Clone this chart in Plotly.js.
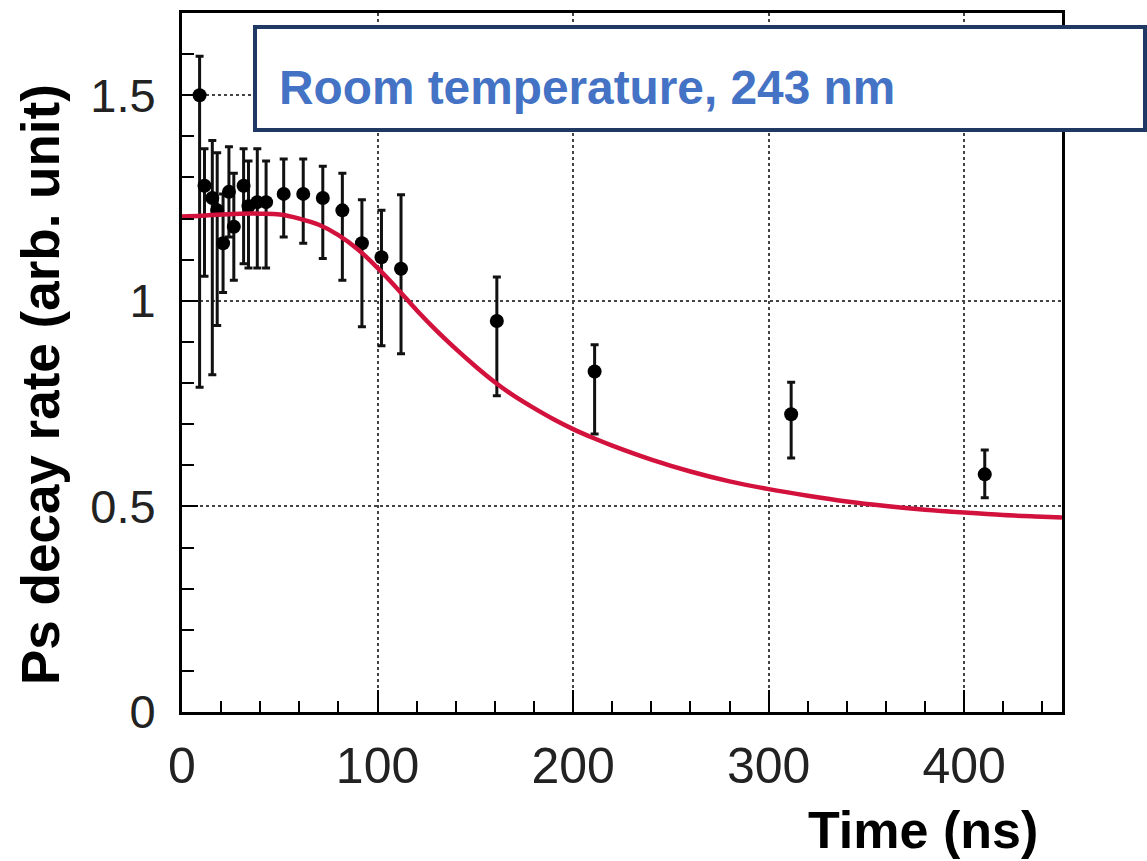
<!DOCTYPE html>
<html>
<head>
<meta charset="utf-8">
<script src="https://cdn.plot.ly/plotly-3.0.1.min.js"></script>
<style>
  html, body { margin: 0; padding: 0; background: #fff; }
  #chart { width: 1147px; height: 861px; }
</style>
</head>
<body>
<div id="chart"></div>
<script>
// Measured data points (time in ns, Ps decay rate in arb. unit)
const timeNs = [9, 11.5, 15.5, 18, 21, 24, 26.5, 31.5, 34, 38.5, 43, 52, 62, 72, 82, 92, 102, 112, 161, 211, 311.5, 410.5];
const rate   = [1.50, 1.28, 1.25, 1.22, 1.14, 1.265, 1.18, 1.28, 1.23, 1.24, 1.24, 1.26, 1.26, 1.25, 1.22, 1.14, 1.106, 1.078, 0.951, 0.828, 0.724, 0.578];
const errUp  = [0.095, 0.09, 0.14, 0.14, 0.12, 0.11, 0.13, 0.09, 0.11, 0.13, 0.10, 0.085, 0.085, 0.077, 0.09, 0.106, 0.114, 0.18, 0.107, 0.065, 0.078, 0.059];
const errDn  = [0.71, 0.22, 0.43, 0.28, 0.12, 0.11, 0.13, 0.19, 0.15, 0.16, 0.16, 0.105, 0.12, 0.147, 0.17, 0.203, 0.215, 0.207, 0.182, 0.152, 0.106, 0.057];

// Fitted curve
const fitT = [0, 10, 20, 30, 40, 50, 60, 70, 80, 90, 100, 110, 120, 130, 140, 150, 160, 170, 180, 190, 200, 210, 220, 240, 260, 280, 300, 320, 340, 360, 380, 400, 420, 440, 450];
const fitV = [1.205, 1.207, 1.21, 1.212, 1.212, 1.21, 1.2, 1.185, 1.16, 1.125, 1.08, 1.03, 0.977, 0.928, 0.883, 0.841, 0.802, 0.768, 0.739, 0.712, 0.688, 0.667, 0.648, 0.614, 0.585, 0.561, 0.542, 0.526, 0.512, 0.501, 0.492, 0.485, 0.479, 0.475, 0.473];

const xTickVals = [0, 100, 200, 300, 400];
const yTickVals = [0, 0.5, 1, 1.5];

const boxLabel = 'Room temperature, 243 nm';
const xTitle = 'Time (ns)';
const yTitle = 'Ps decay rate (arb. unit)';

const FONT = 'Liberation Sans, Arial, Helvetica, sans-serif';

const W = 1147, H = 861;
const M = { l: 182, r: 85, t: 13, b: 149 };
const PW = W - M.l - M.r, PH = H - M.t - M.b;
const px = x => (x - M.l) / PW;          // pixel -> paper x
const py = y => (H - M.b - y) / PH;      // pixel -> paper y

const data = [
  {
    type: 'scatter', mode: 'markers',
    x: timeNs, y: rate,
    marker: { color: '#000', size: 14 },
    error_y: { type: 'data', symmetric: false, array: errUp, arrayminus: errDn,
               color: '#111', thickness: 3, width: 4 },
    showlegend: false, hoverinfo: 'x+y'
  },
  {
    type: 'scatter', mode: 'lines',
    x: fitT, y: fitV,
    line: { color: '#D2123C', width: 4.5, shape: 'spline' },
    showlegend: false
  }
];

const layout = {
  width: W, height: H,
  margin: M,
  paper_bgcolor: '#fff', plot_bgcolor: '#fff',
  font: { family: FONT, color: '#222' },
  showlegend: false,
  xaxis: {
    range: [0, 450], tickvals: xTickVals, ticks: 'inside', ticklen: 22, tickwidth: 2, tickcolor: '#000',
    minor: { dtick: 20, ticks: 'inside', ticklen: 11, tickwidth: 2, tickcolor: '#000', showgrid: false },
    showline: true, linecolor: '#000', linewidth: 3, mirror: true,
    showgrid: true, gridcolor: '#444', gridwidth: 2, griddash: 'dot',
    zeroline: false, tickfont: { size: 50, color: '#222', family: FONT },
    ticklabelstandoff: 8, fixedrange: true
  },
  yaxis: {
    range: [0, 1.7], tickvals: yTickVals, ticks: 'inside', ticklen: 16, tickwidth: 2, tickcolor: '#000',
    minor: { dtick: 0.1, ticks: 'inside', ticklen: 12, tickwidth: 2, tickcolor: '#000', showgrid: false },
    showline: true, linecolor: '#000', linewidth: 3, mirror: true,
    showgrid: true, gridcolor: '#444', gridwidth: 2, griddash: 'dot',
    zeroline: false, tickfont: { size: 47, color: '#222', family: FONT },
    ticklabelstandoff: 14, fixedrange: true
  },
  shapes: [
    { type: 'rect', xref: 'paper', yref: 'paper', layer: 'above',
      x0: px(255), x1: px(1145), y0: py(130), y1: py(27),
      line: { color: '#1F3864', width: 4 }, fillcolor: '#fff' }
  ],
  annotations: [
    { text: boxLabel, xref: 'paper', yref: 'paper', x: px(277), y: py(87),
      xanchor: 'left', yanchor: 'middle', showarrow: false,
      font: { family: FONT, size: 47.8, color: '#4472C4', weight: 'bold' } },
    { text: xTitle, xref: 'paper', yref: 'paper', x: px(923), y: py(830),
      xanchor: 'center', yanchor: 'middle', showarrow: false,
      font: { family: FONT, size: 52, color: '#000', weight: 'bold' } },
    { text: yTitle, xref: 'paper', yref: 'paper', x: px(40), y: py(385),
      xanchor: 'center', yanchor: 'middle', textangle: -90, showarrow: false,
      font: { family: FONT, size: 53, color: '#000', weight: 'bold' } }
  ]
};

Plotly.newPlot('chart', data, layout, { displayModeBar: false, staticPlot: true });
</script>
</body>
</html>
